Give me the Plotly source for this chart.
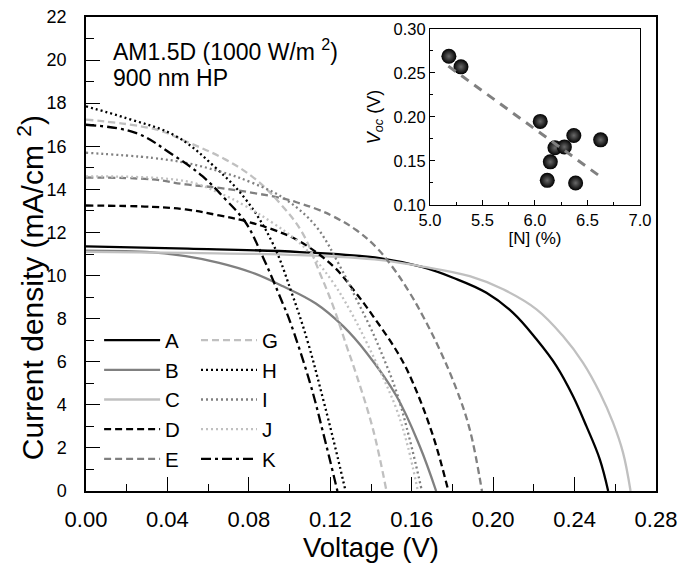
import numpy as np
import plotly.graph_objects as go

# ---------------- data ----------------
V_A = [0, 0.05, 0.105, 0.145, 0.165, 0.1803, 0.1967, 0.2098, 0.2213, 0.2311, 0.2392, 0.2458, 0.2524, 0.2565]
J_A = [11.35, 11.25, 11.09, 10.8, 10.4, 9.9, 9.2, 8.27, 7.04, 5.8, 4.41, 3.01, 1.47, 0]

V_B = [0, 0.0326, 0.049, 0.0654, 0.0818, 0.0968, 0.1129, 0.1263, 0.1378, 0.1525, 0.1639, 0.172]
J_B = [11.15, 11.08, 10.9, 10.59, 10.13, 9.5, 8.7, 7.65, 6.42, 4.41, 2.09, 0]

V_C = [0, 0.05, 0.105, 0.145, 0.1639, 0.1885, 0.2049, 0.2213, 0.2343, 0.2441, 0.2524, 0.2589, 0.2638, 0.2675]
J_C = [11.1, 11.05, 10.95, 10.72, 10.44, 9.97, 9.36, 8.43, 7.19, 5.96, 4.56, 3.17, 1.78, 0]

V_D = [0, 0.0326, 0.049, 0.0654, 0.0785, 0.0916, 0.1047, 0.1214, 0.1312, 0.141, 0.1541, 0.1607, 0.1705, 0.178]
J_D = [13.25, 13.19, 13.07, 12.79, 12.52, 12.14, 11.6, 10.44, 9.36, 8.12, 6.26, 5.0, 2.55, 0]

V_E = [0, 0.0326, 0.049, 0.0654, 0.0818, 0.0981, 0.105, 0.1129, 0.1214, 0.1329, 0.1427, 0.1509, 0.159, 0.1656,
       0.1737, 0.182, 0.1885, 0.1945]
J_E = [14.55, 14.46, 14.23, 14.07, 13.84, 13.55, 13.35, 13.1, 12.75, 12.1, 11.3, 10.35, 9.2, 8.1,
       6.57, 4.72, 2.86, 0]

V_G = [0, 0.0343, 0.049, 0.0686, 0.0834, 0.0965, 0.1063, 0.1148, 0.1214, 0.128, 0.1328, 0.141, 0.1476]
J_G = [17.24, 16.78, 16.23, 15.38, 14.46, 13.22, 11.98, 10.13, 8.58, 6.73, 5.4, 2.86, 0]

V_H = [0, 0.02, 0.0442, 0.0637, 0.0785, 0.0916, 0.1014, 0.109, 0.1165, 0.1225, 0.1275]
J_H = [17.85, 17.3, 16.47, 15.0, 13.53, 11.52, 9.1, 6.9, 4.25, 2.0, 0]

V_I = [0, 0.0326, 0.049, 0.0654, 0.0818, 0.0981, 0.1129, 0.1247, 0.1329, 0.1394, 0.1443, 0.1525, 0.159, 0.165]
J_I = [15.7, 15.46, 15.23, 14.84, 14.3, 13.53, 12.29, 10.44, 8.89, 7.65, 6.6, 4.6, 2.4, 0]

V_J = [0, 0.049, 0.0654, 0.0785, 0.0916, 0.103, 0.1112, 0.1214, 0.1296, 0.1378, 0.1443, 0.1525, 0.158, 0.163]
J_J = [14.6, 14.38, 13.84, 13.22, 12.45, 11.67, 10.9, 9.67, 8.4, 6.9, 5.6, 3.8, 2.1, 0]

V_K = [0, 0.0244, 0.0424, 0.0572, 0.0686, 0.0785, 0.0867, 0.0965, 0.1001, 0.11, 0.1165, 0.1235]
J_K = [17.0, 16.62, 15.62, 14.61, 13.53, 12.45, 10.9, 8.74, 7.9, 5.03, 2.7, 0]

N_pct = [5.18, 5.295, 6.05, 6.19, 6.28, 6.37, 6.625, 6.146, 6.117, 6.387]
Voc = [0.269, 0.257, 0.195, 0.165, 0.166, 0.179, 0.174, 0.149, 0.128, 0.125]
fit_x = [5.175, 6.64]

x_ticks = [0.00, 0.04, 0.08, 0.12, 0.16, 0.20, 0.24, 0.28]
y_ticks = list(range(0, 23, 2))

FONT = "Liberation Sans, Arial, sans-serif"
BLACK, GRAY, LGRAY = "#000000", "#808080", "#c0c0c0"

curves = [
    ("A", V_A, J_A, BLACK, "solid", 2.3, "legend"),
    ("B", V_B, J_B, GRAY, "solid", 2.3, "legend"),
    ("C", V_C, J_C, LGRAY, "solid", 2.3, "legend"),
    ("D", V_D, J_D, BLACK, "7px,4px", 2.3, "legend"),
    ("E", V_E, J_E, GRAY, "7px,4px", 2.3, "legend"),
    ("G", V_G, J_G, LGRAY, "7px,4px", 2.3, "legend2"),
    ("H", V_H, J_H, BLACK, "2px,3px", 2.3, "legend2"),
    ("I", V_I, J_I, GRAY, "2px,3px", 2.3, "legend2"),
    ("J", V_J, J_J, LGRAY, "2px,3px", 2.3, "legend2"),
    ("K", V_K, J_K, BLACK, "10px,4px,3px,4px", 2.3, "legend2"),
]

fig = go.Figure()
for name, v, j, col, dash, w, leg in curves:
    fig.add_trace(go.Scatter(
        x=v, y=j, mode="lines", name=name, legend=leg, legendgroup=name,
        line=dict(color=col, dash=dash, width=w, shape="spline", smoothing=1.1),
        xaxis="x", yaxis="y"))

# inset
fig.add_trace(go.Scatter(
    x=N_pct, y=Voc, mode="markers", showlegend=False, xaxis="x2", yaxis="y2",
    marker=dict(size=15, color="#000000", line=dict(width=0),
                gradient=dict(type="radial", color="#6a6a6a"))))
slope, intercept = np.polyfit(N_pct, Voc, 1)
fig.add_trace(go.Scatter(
    x=fit_x, y=[slope * fx + intercept for fx in fit_x], mode="lines", showlegend=False,
    xaxis="x2", yaxis="y2", line=dict(color=GRAY, dash="9px,7px", width=3)))

main_ax = dict(showline=True, linecolor="black", linewidth=1.5, mirror=True,
               ticks="inside", tickcolor="black", tickwidth=1.2, ticklen=14,
               showgrid=False, zeroline=False, automargin=False)

fig.update_layout(
    width=694, height=566,
    margin=dict(l=86, r=38, t=17, b=75),
    paper_bgcolor="white", plot_bgcolor="white",
    font=dict(family=FONT, color="black"),
    xaxis=dict(**main_ax, range=[0, 0.28], tickvals=x_ticks,
               ticktext=[f"{t:.2f}" for t in x_ticks],
               tickfont=dict(size=22), ticklabelstandoff=8,
               minor=dict(ticks="inside", dtick=0.02, tick0=0, ticklen=7, tickcolor="black", tickwidth=1.2),
               title=dict(text="Voltage (V)", font=dict(size=27.5), standoff=3)),
    yaxis=dict(**main_ax, range=[0, 22], tickvals=y_ticks,
               tickfont=dict(size=18), ticklabelstandoff=14,
               minor=dict(ticks="inside", dtick=1, tick0=0, ticklen=8, tickcolor="black", tickwidth=1.2)),
    xaxis2=dict(domain=[0.6035, 0.9719], anchor="y2", range=[5.0, 7.0], dtick=0.5,
                tickformat=".1f", showline=True, linecolor="black", linewidth=1.2, mirror=True,
                ticks="inside", ticklen=5, tickcolor="black", showgrid=False, zeroline=False,
                tickfont=dict(size=16.5), ticklabelstandoff=0, automargin=False,
                minor=dict(ticks="inside", dtick=0.25, ticklen=3, tickcolor="black"),
                title=dict(text="[N] (%)", font=dict(size=17), standoff=0)),
    yaxis2=dict(domain=[0.6034, 0.9747], anchor="x2", range=[0.10, 0.30], dtick=0.05,
                tickformat=".2f", showline=True, linecolor="black", linewidth=1.2, mirror=True,
                ticks="inside", ticklen=5, tickcolor="black", showgrid=False, zeroline=False,
                tickfont=dict(size=16.5), ticklabelstandoff=0, automargin=False,
                minor=dict(ticks="inside", dtick=0.025, ticklen=3, tickcolor="black"),
                title=dict(text="<i>V</i><sub><i>oc</i></sub> (V)", font=dict(size=18), standoff=8)),
    legend=dict(x=0.023, y=0.36, xanchor="left", yanchor="top", bgcolor="rgba(0,0,0,0)",
                font=dict(size=20.5, family=FONT), traceorder="grouped", tracegroupgap=0,
                itemwidth=56),
    legend2=dict(x=0.193, y=0.36, xanchor="left", yanchor="top", bgcolor="rgba(0,0,0,0)",
                 font=dict(size=20.5, family=FONT), traceorder="grouped", tracegroupgap=0,
                 itemwidth=56),
    annotations=[
        dict(text="Current density (mA/cm <sup>2</sup>)", xref="paper", yref="paper",
             x=-0.0965, y=0.430, xanchor="center", yanchor="middle", textangle=-90,
             showarrow=False, font=dict(size=30)),
        dict(text="AM1.5D (1000 W/m <sup>2</sup>)", xref="paper", yref="paper", x=0.043, y=0.93,
             xanchor="left", yanchor="middle", showarrow=False, font=dict(size=23)),
        dict(text="900 nm HP", xref="paper", yref="paper", x=0.043, y=0.871,
             xanchor="left", yanchor="middle", showarrow=False, font=dict(size=23)),
    ],
)

fig.write_html("out.html", config={"displayModeBar": False},
               post_script="document.body.style.margin='0px';document.body.style.overflow='hidden';")
